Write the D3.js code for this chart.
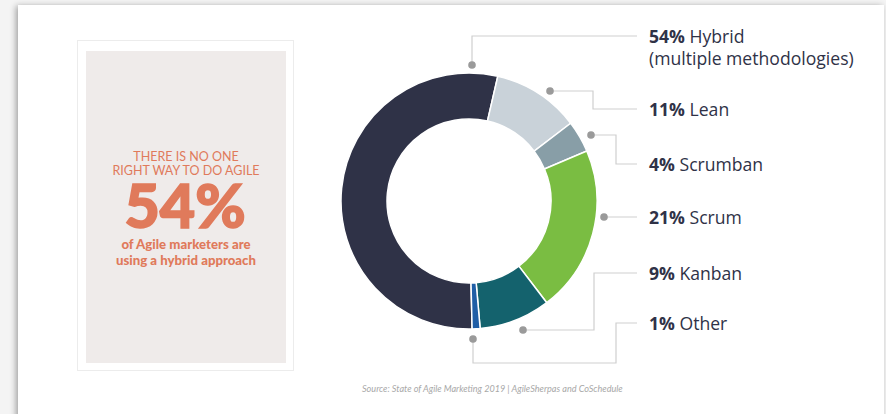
<!DOCTYPE html>
<html><head><meta charset="utf-8">
<script src="https://cdn.jsdelivr.net/npm/d3@7"></script>
<style>html,body{margin:0;padding:0;background:#f4f4f4;overflow:hidden}</style>
</head><body>
<svg id="c" width="886" height="414"></svg>
<script>
const categories = ["Hybrid", "Lean", "Scrumban", "Scrum", "Kanban", "Other"];
const values = [54, 11, 4, 21, 9, 1];
const labelMain = {"Hybrid":"54%","Lean":"11%","Scrumban":"4%","Scrum":"21%","Kanban":"9%","Other":"1%"};
const labelName = {"Hybrid":["Hybrid","(multiple methodologies)"],"Lean":["Lean"],"Scrumban":["Scrumban"],"Scrum":["Scrum"],"Kanban":["Kanban"],"Other":["Other"]};
const colors = ["#2f3247", "#c9d2d9", "#889ea7", "#7abd42", "#14626d", "#1f5ea6"];
const panelLines = ["THERE IS NO ONE", "RIGHT WAY TO DO AGILE"];
const bigStat = "54%";
const subLines = ["of Agile marketers are", "using a hybrid approach"];
const source = "Source: State of Agile Marketing 2019 | AgileSherpas and CoSchedule";

const svg = d3.select("#c");
const defs = svg.append("defs");
const f = defs.append("filter").attr("id","sh").attr("x","-5%").attr("y","-5%").attr("width","110%").attr("height","120%");
f.append("feGaussianBlur").attr("in","SourceAlpha").attr("stdDeviation",3);
f.append("feOffset").attr("dx",-2).attr("dy",1).attr("result","b");
f.append("feComponentTransfer").append("feFuncA").attr("type","linear").attr("slope",0.35);
const m = f.append("feMerge"); m.append("feMergeNode"); m.append("feMergeNode").attr("in","SourceGraphic");

svg.append("rect").attr("x",18).attr("y",5).attr("width",866).attr("height",430).attr("fill","#fff").attr("filter","url(#sh)");

// left panel
svg.append("rect").attr("x",77.5).attr("y",40.5).attr("width",216).attr("height",330).attr("fill","#fff").attr("stroke","#ececec");
svg.append("rect").attr("x",86).attr("y",51).attr("width",200).attr("height",312).attr("fill","#efebea");
const orange = "#e07a5b";
const lp = svg.append("g").attr("font-family","Lato, 'Open Sans', sans-serif").attr("fill",orange).attr("text-anchor","middle");
lp.selectAll("text.t").data(panelLines).join("text").attr("class","t")
  .attr("x",186).attr("y",(d,i)=>160.5+i*14.5).attr("font-size",12.5).attr("font-weight",400).text(d=>d);
lp.append("text").attr("x",185).attr("y",228).attr("font-size",61).attr("font-weight",900)
  .attr("stroke",orange).attr("stroke-width",1.6).text(bigStat);
lp.selectAll("text.s").data(subLines).join("text").attr("class","s")
  .attr("x",186).attr("y",(d,i)=>249+i*16).attr("font-size",13.2).attr("font-weight",900).text(d=>d);

// donut
const cx = 469, cy = 201;
const startA = (178.6) * Math.PI/180;
const pie = d3.pie().sort(null).value(d=>d).startAngle(startA).endAngle(startA + 2*Math.PI);
const arcs = pie(values);
const arc = d3.arc().innerRadius(82).outerRadius(128);
const g = svg.append("g").attr("transform",`translate(${cx},${cy})`);
g.selectAll("path").data(arcs).join("path").attr("d",arc)
  .attr("fill",(d,i)=>colors[i]).attr("stroke","#fff").attr("stroke-width",1.5);

// leaders
const labelX = 649, lineEnd = 637;
const rows = {"Hybrid":36,"Lean":109,"Scrumban":164,"Scrum":217,"Kanban":273,"Other":323};
const leaders = {
  "Hybrid":   [[472,65],[472,36],[lineEnd,36]],
  "Lean":     [[550,91],[593,91],[593,109],[lineEnd,109]],
  "Scrumban": [[591,135],[616,135],[616,164],[lineEnd,164]],
  "Scrum":    [[604,217],[lineEnd,217]],
  "Kanban":   [[523,330],[594,330],[594,273],[lineEnd,273]],
  "Other":    [[473,339],[473,363],[616,363],[616,323],[lineEnd,323]]
};
const line = d3.line();
const lg = svg.append("g");
categories.forEach(c=>{
  const pts = leaders[c];
  lg.append("path").attr("d",line(pts)).attr("fill","none").attr("stroke","#cfcfcf").attr("stroke-width",1.2);
  lg.append("circle").attr("cx",pts[0][0]).attr("cy",pts[0][1]).attr("r",3.8).attr("fill","#9a9a9a");
});
const tg = svg.append("g").attr("font-family","'Open Sans', Lato, sans-serif").attr("fill","#2f3247").attr("font-size",17.6);
categories.forEach(c=>{
  const y = rows[c] + 7;
  const t = tg.append("text").attr("x",labelX).attr("y",y);
  t.append("tspan").attr("font-weight",700).text(labelMain[c] + " ");
  t.append("tspan").attr("font-weight",400).text(labelName[c][0]);
  if (labelName[c][1]) tg.append("text").attr("x",labelX).attr("y",y+22).attr("font-weight",400).text(labelName[c][1]);
});

svg.append("text").attr("x",362).attr("y",392).attr("font-family","Lato, sans-serif").attr("font-style","italic")
  .attr("font-size",9.1).attr("fill","#a8a8a8").text(source);
</script>
</body></html>
